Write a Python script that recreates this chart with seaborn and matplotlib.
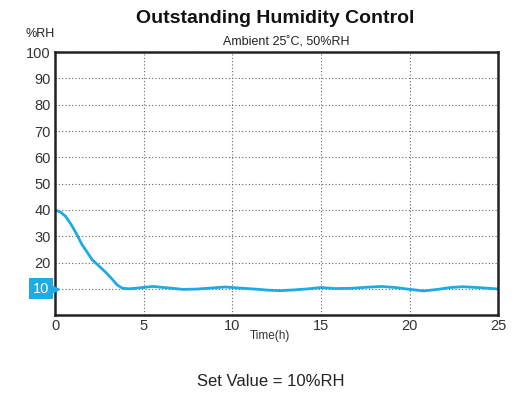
import numpy as np
import matplotlib
matplotlib.use("Agg")
import matplotlib.pyplot as plt
import pandas as pd
import seaborn as sns

# Data
time_h = [0, 0.3, 0.6, 0.9, 1.2, 1.5, 1.8, 2.1, 2.5, 2.9, 3.2, 3.5, 3.8, 4.2,
          4.8, 5.5, 6.3, 7.2, 8.0, 8.8, 9.6, 10.4, 11.3, 12.0, 12.7, 13.5,
          14.3, 15.0, 15.8, 16.7, 17.6, 18.4, 19.2, 20.0, 20.8, 21.6, 22.3,
          23.0, 23.8, 24.5, 25.0]
humidity = [40, 39.2, 37.5, 34.5, 31, 27, 24, 21, 18.5, 16, 13.8, 11.5, 10.2, 10.0,
            10.4, 10.9, 10.4, 9.8, 9.9, 10.3, 10.7, 10.3, 9.9, 9.5, 9.3, 9.6,
            10.0, 10.5, 10.1, 10.2, 10.6, 10.9, 10.5, 9.8, 9.2, 9.8, 10.5,
            10.8, 10.5, 10.2, 9.9]
x_ticks = [0, 5, 10, 15, 20, 25]
y_ticks = [20, 30, 40, 50, 60, 70, 80, 90, 100]
set_value = 10
blue = "#1eaae2"

df = pd.DataFrame({"Time": time_h, "RH": humidity})

sns.set_style("white")
plt.rcParams["font.family"] = ["Liberation Sans", "DejaVu Sans"]

fig = plt.figure(figsize=(5.2, 4.04), dpi=100)
ax = fig.add_axes([0.106, 0.220, 0.852, 0.651])

sns.lineplot(data=df, x="Time", y="RH", color=blue, linewidth=2.0, ax=ax)

ax.set_xlim(0, 25)
ax.set_ylim(0, 100)
ax.set_xticks(x_ticks)
ax.set_yticks([10] + y_ticks)
ax.set_yticklabels([""] + [str(v) for v in y_ticks])
ax.tick_params(length=0, labelsize=10.5, colors="#333333", pad=3)
ax.grid(True, linestyle=(0, (1, 2)), color="#666666", linewidth=0.8)
ax.set_xlabel("")
ax.set_ylabel("")
for s in ax.spines.values():
    s.set_color("#222222")
    s.set_linewidth(1.8)

# set value tag: box plus a small pointer
ax.text(-0.35, set_value, "10", ha="right", va="center", color="white",
        fontsize=10.5, bbox=dict(boxstyle="square,pad=0.25", fc=blue, ec="none"),
        clip_on=False, zorder=5)
ax.plot([-0.08], [set_value], marker=">", markersize=7, color=blue,
        clip_on=False, zorder=5)

fig.text(0.53, 0.955, "Outstanding Humidity Control", ha="center", va="center",
         fontsize=14, fontweight="bold", color="#111111")
fig.text(0.55, 0.895, "Ambient 25˚C, 50%RH", ha="center", va="center",
         fontsize=9, color="#222222")
fig.text(0.077, 0.915, "%RH", ha="center", va="center", fontsize=9, color="#222222")
fig.text(0.52, 0.168, "Time(h)", ha="center", va="center", fontsize=8.5, color="#333333")
fig.text(0.52, 0.055, "Set Value = 10%RH", ha="center", va="center", fontsize=12,
         color="#222222")

fig.savefig("out.png", dpi=100)
